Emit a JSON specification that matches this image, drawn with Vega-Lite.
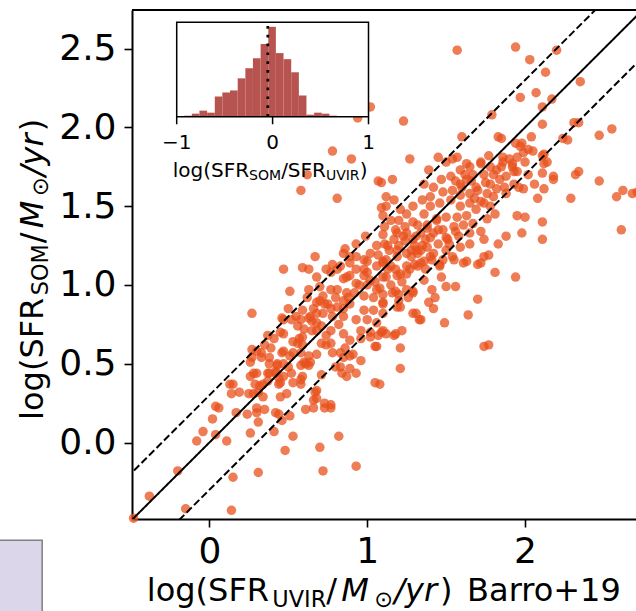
{
  "$schema": "https://vega.github.io/schema/vega-lite/v6.json",
  "width": 504,
  "height": 509,
  "autosize": "none",
  "padding": {"left": 132, "top": 10, "right": 0, "bottom": 92},
  "background": "white",
  "config": {
    "font": "DejaVu Sans",
    "view": {"stroke": null},
    "axis": {"grid": false, "domainColor": "black", "tickColor": "black", "labelColor": "black", "labelFont": "DejaVu Sans", "labelFlush": false, "labelOverlap": false, "labelBound": false}
  },
  "datasets": {
    "points": [
      {"x":1.57,"y":2.49},{"x":1.94,"y":2.51},{"x":2.20,"y":2.49},{"x":2.03,"y":2.43},{"x":2.13,"y":2.35},{"x":2.35,"y":2.29},{"x":2.07,"y":2.22},{"x":1.97,"y":2.19},{"x":2.17,"y":2.18},{"x":2.11,"y":2.13},
      {"x":1.79,"y":2.08},{"x":1.23,"y":2.04},{"x":2.11,"y":2.02},{"x":2.31,"y":2.03},{"x":2.34,"y":2.03},{"x":2.55,"y":1.99},{"x":2.47,"y":1.95},{"x":1.60,"y":1.94},{"x":1.83,"y":1.94},{"x":1.85,"y":1.93},
      {"x":1.94,"y":1.90},{"x":2.04,"y":1.94},{"x":1.97,"y":1.88},{"x":2.02,"y":1.86},{"x":1.99,"y":1.84},{"x":2.24,"y":1.93},{"x":2.27,"y":1.92},{"x":1.27,"y":1.80},{"x":1.45,"y":1.81},{"x":1.54,"y":1.80},
      {"x":1.57,"y":1.81},{"x":1.63,"y":1.77},{"x":1.65,"y":1.75},{"x":1.72,"y":1.77},{"x":1.77,"y":1.82},{"x":1.39,"y":1.73},{"x":1.86,"y":1.81},{"x":1.92,"y":1.77},{"x":1.92,"y":1.75},{"x":1.95,"y":1.81},
      {"x":2.11,"y":1.82},{"x":2.12,"y":1.77},{"x":2.11,"y":1.71},{"x":2.18,"y":1.69},{"x":2.18,"y":1.67},{"x":2.32,"y":1.70},{"x":2.34,"y":1.72},{"x":2.47,"y":1.66},{"x":2.29,"y":1.55},{"x":2.58,"y":1.56},
      {"x":2.62,"y":1.60},{"x":2.68,"y":1.58},{"x":2.71,"y":1.59},{"x":2.61,"y":1.35},{"x":2.11,"y":1.40},{"x":2.11,"y":1.29},{"x":1.98,"y":1.33},{"x":1.95,"y":1.44},{"x":2.00,"y":1.43},{"x":1.16,"y":1.67},
      {"x":1.09,"y":1.65},{"x":1.12,"y":1.56},{"x":2.06,"y":1.64},{"x":1.99,"y":1.61},{"x":2.08,"y":1.55},{"x":2.12,"y":1.61},{"x":2.14,"y":1.78},{"x":2.12,"y":1.83},{"x":1.09,"y":1.49},
      {"x":0.78,"y":1.85},{"x":0.90,"y":1.80},{"x":1.07,"y":1.66},{"x":0.62,"y":1.70},{"x":0.58,"y":1.60},{"x":0.81,"y":1.55},{"x":1.02,"y":2.13},{"x":0.94,"y":2.06},
      {"x":1.50,"y":1.78},{"x":1.47,"y":1.67},{"x":1.53,"y":1.69},{"x":1.59,"y":1.73},{"x":1.82,"y":1.73},{"x":1.86,"y":1.78},{"x":1.93,"y":1.72},{"x":1.88,"y":1.69},{"x":1.84,"y":1.67},{"x":1.93,"y":1.64},
      {"x":1.87,"y":1.62},{"x":1.82,"y":1.61},{"x":1.78,"y":1.64},{"x":1.74,"y":1.70},{"x":1.67,"y":1.70},{"x":1.63,"y":1.67},{"x":1.59,"y":1.64},{"x":1.69,"y":1.62},{"x":1.76,"y":1.58},{"x":1.65,"y":1.58},
      {"x":1.59,"y":1.57},{"x":1.54,"y":1.60},{"x":1.48,"y":1.59},{"x":1.42,"y":1.62},{"x":1.36,"y":1.64},{"x":1.40,"y":1.56},{"x":1.35,"y":1.54},{"x":1.29,"y":1.50},{"x":1.25,"y":1.45},{"x":1.21,"y":1.48},
      {"x":1.17,"y":1.54},{"x":1.12,"y":1.50},{"x":1.10,"y":1.44},{"x":1.15,"y":1.41},{"x":1.20,"y":1.41},{"x":1.24,"y":1.37},{"x":1.18,"y":1.35},{"x":1.11,"y":1.37},{"x":1.29,"y":1.40},{"x":1.36,"y":1.45},
      {"x":1.40,"y":1.50},{"x":1.46,"y":1.52},{"x":1.53,"y":1.54},{"x":1.59,"y":1.50},{"x":1.65,"y":1.52},{"x":1.72,"y":1.53},{"x":1.78,"y":1.50},{"x":1.81,"y":1.45},{"x":1.76,"y":1.42},{"x":1.69,"y":1.48},
      {"x":1.63,"y":1.44},{"x":1.57,"y":1.43},{"x":1.50,"y":1.43},{"x":1.44,"y":1.41},{"x":1.38,"y":1.38},{"x":1.34,"y":1.33},{"x":1.29,"y":1.29},{"x":1.23,"y":1.31},{"x":1.17,"y":1.29},{"x":1.11,"y":1.26},
      {"x":1.42,"y":1.33},{"x":1.48,"y":1.35},{"x":1.55,"y":1.37},{"x":1.61,"y":1.38},{"x":1.67,"y":1.39},{"x":1.72,"y":1.34},{"x":1.65,"y":1.33},{"x":1.58,"y":1.31},{"x":1.51,"y":1.29},{"x":1.45,"y":1.26},
      {"x":1.38,"y":1.24},{"x":1.31,"y":1.22},{"x":1.25,"y":1.20},{"x":1.19,"y":1.18},{"x":1.12,"y":1.16},{"x":1.40,"y":1.18},{"x":1.50,"y":1.22},{"x":1.59,"y":1.24},{"x":1.65,"y":1.26},{"x":1.74,"y":1.29},
      {"x":1.83,"y":1.26},{"x":1.88,"y":1.31},{"x":1.77,"y":1.19},{"x":1.72,"y":1.14},{"x":1.61,"y":1.14},{"x":1.55,"y":1.16},{"x":1.46,"y":1.12},{"x":1.34,"y":1.14},{"x":1.27,"y":1.10},{"x":1.21,"y":1.07},
      {"x":1.15,"y":1.12},{"x":1.94,"y":1.05},{"x":1.81,"y":1.08},
      {"x":1.70,"y":0.91},{"x":1.64,"y":0.81},{"x":1.49,"y":0.76},{"x":1.33,"y":0.78},{"x":1.29,"y":0.82},{"x":1.42,"y":0.85},{"x":1.39,"y":0.89},{"x":1.43,"y":0.92},{"x":1.41,"y":0.97},{"x":1.50,"y":0.99},
      {"x":1.56,"y":0.99},{"x":1.47,"y":1.05},{"x":1.70,"y":1.13},{"x":1.74,"y":1.18},{"x":1.63,"y":1.15},{"x":1.54,"y":1.18},{"x":1.46,"y":1.13},{"x":1.41,"y":1.16},{"x":1.32,"y":1.12},{"x":1.29,"y":0.96},
      {"x":1.18,"y":0.96},{"x":1.20,"y":0.94},{"x":1.19,"y":0.86},{"x":1.10,"y":0.89},{"x":1.09,"y":0.70},{"x":1.12,"y":0.69},{"x":1.18,"y":0.69},{"x":1.21,"y":0.60},{"x":1.21,"y":0.47},{"x":1.08,"y":0.37},
      {"x":1.74,"y":0.61},{"x":1.77,"y":0.62},
      {"x":0.67,"y":1.18},{"x":0.47,"y":1.10},{"x":0.59,"y":1.11},{"x":0.63,"y":1.10},{"x":0.78,"y":1.13},{"x":0.51,"y":0.96},{"x":0.63,"y":0.97},{"x":0.70,"y":0.99},{"x":0.77,"y":0.97},{"x":0.27,"y":0.82},
      {"x":0.47,"y":0.78},{"x":0.52,"y":0.78},{"x":0.37,"y":0.68},{"x":0.41,"y":0.66},{"x":0.47,"y":0.69},{"x":0.58,"y":0.78},{"x":0.57,"y":0.66},{"x":0.65,"y":0.77},{"x":0.68,"y":0.71},{"x":0.27,"y":0.59},
      {"x":0.33,"y":0.57},{"x":0.27,"y":0.54},{"x":0.38,"y":0.54},{"x":0.43,"y":0.49},{"x":0.42,"y":0.44},{"x":0.47,"y":0.42},{"x":0.50,"y":0.48},{"x":0.58,"y":0.49},{"x":0.63,"y":0.49},{"x":0.59,"y":0.42},
      {"x":0.58,"y":0.37},{"x":0.67,"y":0.32},{"x":0.68,"y":0.28},{"x":0.15,"y":0.37},{"x":0.19,"y":0.32},{"x":0.14,"y":0.31},{"x":0.25,"y":0.31},{"x":0.28,"y":0.31},{"x":0.31,"y":0.32},{"x":0.34,"y":0.29},
      {"x":0.32,"y":0.36},{"x":0.37,"y":0.39},{"x":0.04,"y":0.23},{"x":0.06,"y":0.22},{"x":0.02,"y":0.15},{"x":0.17,"y":0.19},{"x":0.24,"y":0.18},{"x":0.30,"y":0.19},{"x":0.31,"y":0.13},{"x":0.35,"y":0.21},
      {"x":0.42,"y":0.19},{"x":0.44,"y":0.18},{"x":0.46,"y":0.14},{"x":0.51,"y":0.17},{"x":0.41,"y":0.07},{"x":0.61,"y":0.21},{"x":0.73,"y":0.22},{"x":0.77,"y":0.22},{"x":-0.04,"y":0.07},
      {"x":-0.08,"y":0.01},{"x":0.04,"y":0.05},{"x":0.11,"y":0.01},{"x":0.26,"y":0.06},{"x":0.53,"y":0.04},{"x":0.82,"y":0.04},{"x":0.48,"y":-0.05},{"x":0.70,"y":-0.03},{"x":-0.20,"y":-0.18},{"x":0.15,"y":-0.22},
      {"x":0.31,"y":-0.19},{"x":0.72,"y":-0.18},{"x":0.93,"y":-0.15},{"x":-0.38,"y":-0.34},{"x":-0.15,"y":-0.42},{"x":0.14,"y":-0.43},{"x":-0.48,"y":-0.48},
      {"x":0.85,"y":1.20},{"x":0.93,"y":1.18},{"x":0.98,"y":1.16},{"x":1.06,"y":1.12},{"x":1.10,"y":1.14},{"x":0.87,"y":1.05},{"x":0.98,"y":1.10},{"x":1.02,"y":1.03},{"x":0.93,"y":1.01},{"x":1.06,"y":0.97},
      {"x":1.10,"y":1.05},{"x":0.87,"y":0.95},{"x":0.98,"y":0.93},{"x":0.85,"y":0.90},{"x":1.10,"y":0.88},{"x":0.81,"y":0.86},{"x":0.89,"y":0.88},{"x":0.98,"y":0.84},{"x":1.04,"y":0.84},{"x":1.10,"y":0.82},
      {"x":0.85,"y":0.80},{"x":0.93,"y":0.78},{"x":1.00,"y":0.78},{"x":1.06,"y":0.76},{"x":0.77,"y":0.71},{"x":0.85,"y":0.69},{"x":0.89,"y":0.65},{"x":0.96,"y":0.71},{"x":1.02,"y":0.67},{"x":1.10,"y":0.71},
      {"x":1.06,"y":0.61},{"x":0.77,"y":0.63},{"x":0.83,"y":0.57},{"x":0.89,"y":0.55},{"x":0.96,"y":0.52},{"x":0.83,"y":0.48},{"x":0.87,"y":0.42},{"x":0.93,"y":0.44},{"x":1.05,"y":0.38},{"x":0.72,"y":0.93},
      {"x":0.77,"y":0.85},{"x":0.68,"y":0.82},{"x":0.71,"y":0.74},{"x":0.64,"y":0.80},{"x":0.81,"y":0.97},{"x":0.68,"y":1.05},{"x":0.74,"y":1.10},{"x":0.81,"y":1.10},{"x":0.89,"y":1.14},
      {"x":0.86,"y":1.23},{"x":0.93,"y":1.26},{"x":0.99,"y":1.31},{"x":1.10,"y":1.32},{"x":1.13,"y":1.25},{"x":1.19,"y":1.33},{"x":1.25,"y":1.33},{"x":1.31,"y":1.31},{"x":1.37,"y":1.29},{"x":1.34,"y":1.22},
      {"x":1.28,"y":1.22},{"x":1.19,"y":1.22},{"x":1.07,"y":1.19},{"x":1.00,"y":1.15},{"x":0.89,"y":1.18},{"x":0.83,"y":1.12},{"x":0.77,"y":1.08},{"x":0.93,"y":1.10},{"x":1.00,"y":1.08},{"x":0.89,"y":1.06},
      {"x":0.85,"y":1.04},{"x":1.13,"y":1.10},{"x":1.19,"y":1.06},{"x":1.25,"y":1.07},{"x":1.30,"y":1.13},{"x":1.36,"y":1.15},{"x":1.37,"y":1.10},{"x":1.25,"y":0.97},{"x":1.29,"y":0.95},{"x":1.36,"y":1.03},
      {"x":1.31,"y":0.82},{"x":1.34,"y":0.78},{"x":1.21,"y":0.86},{"x":1.22,"y":0.71},{"x":1.17,"y":0.68},{"x":1.07,"y":0.68},{"x":1.02,"y":0.70},{"x":1.05,"y":0.61},{"x":0.96,"y":0.66},{"x":0.86,"y":0.60},
      {"x":0.91,"y":0.56},{"x":0.85,"y":0.54},{"x":0.89,"y":0.47},{"x":0.84,"y":0.44},{"x":0.80,"y":0.48},{"x":0.78,"y":0.57},{"x":0.74,"y":0.62},{"x":0.71,"y":0.63},{"x":0.68,"y":0.56},{"x":0.63,"y":0.55},
      {"x":0.60,"y":0.51},{"x":0.64,"y":0.51},{"x":0.71,"y":0.43},{"x":0.68,"y":0.33},{"x":0.66,"y":0.27},{"x":0.77,"y":0.24},{"x":0.73,"y":0.25},{"x":0.73,"y":0.88},{"x":0.68,"y":0.89},
      {"x":0.59,"y":0.84},{"x":0.63,"y":0.79},{"x":0.68,"y":0.76},{"x":0.65,"y":0.71},{"x":0.56,"y":0.74},{"x":0.46,"y":0.79},{"x":0.53,"y":0.64},{"x":0.59,"y":0.67},{"x":0.35,"y":0.62},{"x":0.30,"y":0.58},
      {"x":0.33,"y":0.54},{"x":0.39,"y":0.60},{"x":0.47,"y":0.58},{"x":0.51,"y":0.55},{"x":0.58,"y":0.57},{"x":0.61,"y":0.50},{"x":0.47,"y":0.50},{"x":0.38,"y":0.50},{"x":0.30,"y":0.44},{"x":0.37,"y":0.44},
      {"x":0.42,"y":0.45},{"x":0.52,"y":0.44},{"x":0.58,"y":0.40},{"x":0.53,"y":0.38},{"x":0.45,"y":0.38},{"x":0.34,"y":0.37},{"x":0.29,"y":0.37},{"x":0.45,"y":0.29},{"x":0.49,"y":0.31},{"x":0.66,"y":0.22},
      {"x":0.46,"y":0.57},{"x":0.53,"y":0.57},{"x":0.59,"y":0.62},{"x":0.56,"y":0.63},{"x":0.26,"y":0.51},{"x":0.43,"y":0.50},{"x":0.38,"y":0.44},{"x":0.28,"y":0.44},{"x":0.26,"y":0.42},{"x":0.44,"y":0.41},
      {"x":0.44,"y":0.37},{"x":0.13,"y":0.37},{"x":0.30,"y":0.22},
      {"x":1.00,"y":1.00},{"x":1.05,"y":1.02},{"x":1.08,"y":0.98},{"x":1.12,"y":1.05},{"x":1.15,"y":1.00},{"x":1.18,"y":1.10},{"x":1.22,"y":1.02},{"x":1.25,"y":1.12},{"x":1.28,"y":1.18},{"x":1.02,"y":1.20},
      {"x":1.06,"y":1.25},{"x":0.98,"y":1.06},{"x":1.10,"y":1.15},{"x":1.14,"y":1.22},{"x":1.20,"y":1.25},{"x":1.30,"y":1.25},{"x":1.32,"y":1.20},{"x":1.24,"y":1.28},{"x":0.95,"y":1.00},{"x":0.92,"y":0.95},
      {"x":1.04,"y":0.92},{"x":1.10,"y":0.94},{"x":1.16,"y":0.95},{"x":1.20,"y":0.90},{"x":1.26,"y":0.92},
      {"x":1.60,"y":1.62},{"x":1.66,"y":1.66},{"x":1.70,"y":1.60},{"x":1.75,"y":1.65},{"x":1.80,"y":1.70},{"x":1.85,"y":1.75},{"x":1.90,"y":1.80},{"x":1.95,"y":1.72},{"x":2.00,"y":1.78},{"x":1.72,"y":1.78},
      {"x":1.78,"y":1.75},{"x":1.62,"y":1.70},{"x":1.56,"y":1.66},{"x":1.68,"y":1.55},{"x":1.74,"y":1.52},{"x":1.80,"y":1.56},{"x":1.88,"y":1.58},{"x":1.96,"y":1.62},{"x":2.02,"y":1.70},{"x":2.05,"y":1.85},
      {"x":1.98,"y":1.90},
      {"x":0.70,"y":0.90},{"x":0.75,"y":0.88},{"x":0.80,"y":0.92},{"x":0.78,"y":0.80},{"x":0.72,"y":0.82},{"x":0.66,"y":0.85},{"x":0.62,"y":0.92},{"x":0.85,"y":0.85},{"x":0.88,"y":0.92},{"x":0.82,"y":0.75},
      {"x":0.74,"y":0.68},{"x":0.60,"y":0.72},{"x":0.55,"y":0.80},{"x":0.50,"y":0.85},{"x":0.45,"y":0.70},
      {"x":1.35,"y":1.25},{"x":1.40,"y":1.30},{"x":1.45,"y":1.35},{"x":1.50,"y":1.30},{"x":1.42,"y":1.20},{"x":1.48,"y":1.16},{"x":1.52,"y":1.26},{"x":1.56,"y":1.34},{"x":1.38,"y":1.36},{"x":1.44,"y":1.42},
      {"x":1.32,"y":1.38}
    ],
    "hist": [
      {"lo":-0.922,"hi":-0.842,"n":1},{"lo":-0.842,"hi":-0.763,"n":3},{"lo":-0.763,"hi":-0.683,"n":6},{"lo":-0.683,"hi":-0.603,"n":4},
      {"lo":-0.603,"hi":-0.524,"n":20},{"lo":-0.524,"hi":-0.444,"n":24},{"lo":-0.444,"hi":-0.364,"n":26},{"lo":-0.364,"hi":-0.284,"n":38},
      {"lo":-0.284,"hi":-0.205,"n":48},{"lo":-0.205,"hi":-0.125,"n":58},{"lo":-0.125,"hi":-0.045,"n":72},{"lo":-0.045,"hi":0.034,"n":89},
      {"lo":0.034,"hi":0.114,"n":63},{"lo":0.114,"hi":0.194,"n":57},{"lo":0.194,"hi":0.274,"n":44},{"lo":0.274,"hi":0.353,"n":21},
      {"lo":0.353,"hi":0.433,"n":2},{"lo":0.433,"hi":0.512,"n":4},{"lo":0.512,"hi":0.592,"n":3},{"lo":0.592,"hi":0.672,"n":1}
    ],
    "guides": [
      {"x1":-1,"y1":-1,"x2":3.5,"y2":3.5,"line":"1:1"},
      {"x1":-1,"y1":-0.7,"x2":3.5,"y2":3.8,"line":"+0.3 dex"},
      {"x1":-1,"y1":-1.3,"x2":3.5,"y2":3.2,"line":"-0.3 dex"}
    ],
    "insetTicks": [{"v": -1}, {"v": 0}, {"v": 1}]
  },
  "layer": [
    {
      "layer": [
        {
          "data": {"name": "points"},
          "mark": {"type": "circle", "size": 90, "color": "#e8501c", "opacity": 0.75},
          "encoding": {
            "x": {"field": "x", "type": "quantitative", "title": null,
                  "scale": {"domain": [-0.49, 2.703], "nice": false, "zero": false},
                  "axis": {"values": [0, 1, 2], "format": "d", "labelFontSize": 36, "tickSize": 8, "tickWidth": 1.6, "domainWidth": 2, "labelPadding": 7}},
            "y": {"field": "y", "type": "quantitative", "title": null,
                  "scale": {"domain": [-0.485, 2.745], "nice": false, "zero": false},
                  "axis": {"values": [0, 0.5, 1, 1.5, 2, 2.5], "format": ".1f", "labelFontSize": 36, "tickSize": 8, "tickWidth": 1.6, "domainWidth": 2, "labelPadding": 8}}
          }
        },
        {
          "data": {"name": "guides"},
          "mark": {"type": "rule", "color": "black", "strokeWidth": 2, "clip": true},
          "encoding": {
            "x": {"field": "x1", "type": "quantitative", "title": null},
            "y": {"field": "y1", "type": "quantitative", "title": null},
            "x2": {"field": "x2"},
            "y2": {"field": "y2"},
            "strokeDash": {"field": "line", "type": "nominal", "legend": null,
                           "scale": {"domain": ["1:1", "+0.3 dex", "-0.3 dex"], "range": [[1, 0], [7.4, 3.2], [7.4, 3.2]]}}
          }
        },
        {
          "data": {"values": [{}]},
          "mark": {"type": "rule", "color": "black", "strokeWidth": 2},
          "encoding": {"x": {"datum": -0.49}, "x2": {"datum": 2.703}, "y": {"datum": 2.745}}
        },
        {
          "data": {"values": [{}]},
          "mark": {"type": "rect", "fill": "#dcd6ea", "stroke": "#808080", "strokeWidth": 1.5},
          "encoding": {"x": {"datum": -1.5}, "x2": {"datum": -1.059}, "y": {"datum": -0.62}, "y2": {"datum": -1.3}}
        },
        {"data": {"values": [{"t": "log(SFR"}]}, "mark": {"type": "text", "align": "left", "baseline": "alphabetic", "fontSize": 32, "color": "black"},
         "encoding": {"x": {"datum": -0.396}, "y": {"datum": -1.008}, "text": {"field": "t"}}},
        {"data": {"values": [{"t": "UVIR"}]}, "mark": {"type": "text", "align": "left", "baseline": "alphabetic", "fontSize": 22.4, "color": "black"},
         "encoding": {"x": {"datum": 0.399}, "y": {"datum": -1.045}, "text": {"field": "t"}}},
        {"data": {"values": [{"t": "/"}]}, "mark": {"type": "text", "align": "left", "baseline": "alphabetic", "fontSize": 32, "color": "black"},
         "encoding": {"x": {"datum": 0.741}, "y": {"datum": -1.008}, "text": {"field": "t"}}},
        {"data": {"values": [{"t": "M"}]}, "mark": {"type": "text", "align": "left", "baseline": "alphabetic", "fontSize": 32, "fontStyle": "italic", "color": "black"},
         "encoding": {"x": {"datum": 0.835}, "y": {"datum": -1.008}, "text": {"field": "t"}}},
        {"data": {"values": [{"t": "⊙"}]}, "mark": {"type": "text", "align": "left", "baseline": "alphabetic", "fontSize": 22.4, "color": "black"},
         "encoding": {"x": {"datum": 1.044}, "y": {"datum": -1.045}, "text": {"field": "t"}}},
        {"data": {"values": [{"t": "/yr"}]}, "mark": {"type": "text", "align": "left", "baseline": "alphabetic", "fontSize": 32, "fontStyle": "italic", "color": "black"},
         "encoding": {"x": {"datum": 1.171}, "y": {"datum": -1.008}, "text": {"field": "t"}}},
        {"data": {"values": [{"t": ")"}]}, "mark": {"type": "text", "align": "left", "baseline": "alphabetic", "fontSize": 32, "color": "black"},
         "encoding": {"x": {"datum": 1.462}, "y": {"datum": -1.008}, "text": {"field": "t"}}},
        {"data": {"values": [{"t": "Barro+19"}]}, "mark": {"type": "text", "align": "left", "baseline": "alphabetic", "fontSize": 32, "color": "black"},
         "encoding": {"x": {"datum": 1.633}, "y": {"datum": -1.008}, "text": {"field": "t"}}},
        {"data": {"values": [{"t": "log(SFR"}]}, "mark": {"type": "text", "align": "left", "baseline": "alphabetic", "angle": 270, "fontSize": 32, "color": "black"},
         "encoding": {"x": {"datum": -1.057}, "y": {"datum": 0.144}, "text": {"field": "t"}}},
        {"data": {"values": [{"t": "SOM"}]}, "mark": {"type": "text", "align": "left", "baseline": "alphabetic", "angle": 270, "fontSize": 22.4, "color": "black"},
         "encoding": {"x": {"datum": -1.020}, "y": {"datum": 0.935}, "text": {"field": "t"}}},
        {"data": {"values": [{"t": "/"}]}, "mark": {"type": "text", "align": "left", "baseline": "alphabetic", "angle": 270, "fontSize": 32, "color": "black"},
         "encoding": {"x": {"datum": -1.057}, "y": {"datum": 1.265}, "text": {"field": "t"}}},
        {"data": {"values": [{"t": "M"}]}, "mark": {"type": "text", "align": "left", "baseline": "alphabetic", "angle": 270, "fontSize": 32, "fontStyle": "italic", "color": "black"},
         "encoding": {"x": {"datum": -1.057}, "y": {"datum": 1.36}, "text": {"field": "t"}}},
        {"data": {"values": [{"t": "⊙"}]}, "mark": {"type": "text", "align": "left", "baseline": "alphabetic", "angle": 270, "fontSize": 22.4, "color": "black"},
         "encoding": {"x": {"datum": -1.020}, "y": {"datum": 1.565}, "text": {"field": "t"}}},
        {"data": {"values": [{"t": "/yr"}]}, "mark": {"type": "text", "align": "left", "baseline": "alphabetic", "angle": 270, "fontSize": 32, "fontStyle": "italic", "color": "black"},
         "encoding": {"x": {"datum": -1.057}, "y": {"datum": 1.69}, "text": {"field": "t"}}},
        {"data": {"values": [{"t": ")"}]}, "mark": {"type": "text", "align": "left", "baseline": "alphabetic", "angle": 270, "fontSize": 32, "color": "black"},
         "encoding": {"x": {"datum": -1.057}, "y": {"datum": 1.975}, "text": {"field": "t"}}}
      ]
    },
    {
      "layer": [
        {
          "data": {"values": [{}]},
          "mark": {"type": "rect", "fill": "white", "strokeWidth": 0},
          "encoding": {
            "x": {"datum": -1,
                  "scale": {"domain": [-1, 1], "range": [44.7, 236.5], "nice": false, "zero": false},
                  "axis": null},
            "x2": {"datum": 1},
            "y": {"datum": 0, "scale": {"domain": [0, 93.5], "range": [106.7, 12.3], "nice": false, "zero": false}, "axis": null},
            "y2": {"datum": 93.5}
          }
        },
        {
          "data": {"name": "hist"},
          "mark": {"type": "rect", "color": "#b8544f"},
          "encoding": {
            "x": {"field": "lo", "type": "quantitative", "title": null},
            "x2": {"field": "hi"},
            "y": {"field": "n", "type": "quantitative", "title": null},
            "y2": {"datum": 0}
          }
        },
        {
          "data": {"values": [{}]},
          "mark": {"type": "rule", "color": "black", "strokeWidth": 2.7, "strokeDash": [2.7, 6.1], "strokeCap": "butt"},
          "encoding": {"x": {"datum": -0.05}, "y": {"datum": 0}, "y2": {"datum": 93.5}}
        },
        {
          "data": {"values": [{}]},
          "mark": {"type": "rect", "fillOpacity": 0, "stroke": "black", "strokeWidth": 1.5},
          "encoding": {"x": {"datum": -1}, "x2": {"datum": 1}, "y": {"datum": 0}, "y2": {"datum": 93.5}}
        },
        {
          "data": {"name": "insetTicks"},
          "mark": {"type": "rule", "color": "black", "strokeWidth": 1.5},
          "encoding": {"x": {"field": "v", "type": "quantitative", "title": null}, "y": {"datum": 0}, "y2": {"datum": -7.5}}
        },
        {
          "data": {"name": "insetTicks"},
          "mark": {"type": "text", "align": "center", "baseline": "alphabetic", "fontSize": 20, "color": "black"},
          "encoding": {"x": {"field": "v", "type": "quantitative", "title": null}, "y": {"datum": -32}, "text": {"field": "v", "type": "quantitative", "format": "d"}}
        },
        {"data": {"values": [{"t": "log(SFR"}]}, "mark": {"type": "text", "align": "left", "baseline": "alphabetic", "fontSize": 20, "color": "black"},
         "encoding": {"x": {"datum": -1.042}, "y": {"datum": -59.4}, "text": {"field": "t"}}},
        {"data": {"values": [{"t": "SOM"}]}, "mark": {"type": "text", "align": "left", "baseline": "alphabetic", "fontSize": 14, "color": "black"},
         "encoding": {"x": {"datum": -0.245}, "y": {"datum": -62.7}, "text": {"field": "t"}}},
        {"data": {"values": [{"t": "/"}]}, "mark": {"type": "text", "align": "left", "baseline": "alphabetic", "fontSize": 20, "color": "black"},
         "encoding": {"x": {"datum": 0.089}, "y": {"datum": -59.4}, "text": {"field": "t"}}},
        {"data": {"values": [{"t": "SFR"}]}, "mark": {"type": "text", "align": "left", "baseline": "alphabetic", "fontSize": 20, "color": "black"},
         "encoding": {"x": {"datum": 0.159}, "y": {"datum": -59.4}, "text": {"field": "t"}}},
        {"data": {"values": [{"t": "UVIR"}]}, "mark": {"type": "text", "align": "left", "baseline": "alphabetic", "fontSize": 14, "color": "black"},
         "encoding": {"x": {"datum": 0.556}, "y": {"datum": -62.7}, "text": {"field": "t"}}},
        {"data": {"values": [{"t": ")"}]}, "mark": {"type": "text", "align": "left", "baseline": "alphabetic", "fontSize": 20, "color": "black"},
         "encoding": {"x": {"datum": 0.908}, "y": {"datum": -59.4}, "text": {"field": "t"}}}
      ]
    }
  ],
  "resolve": {"scale": {"x": "independent", "y": "independent"}, "axis": {"x": "independent", "y": "independent"}}
}
